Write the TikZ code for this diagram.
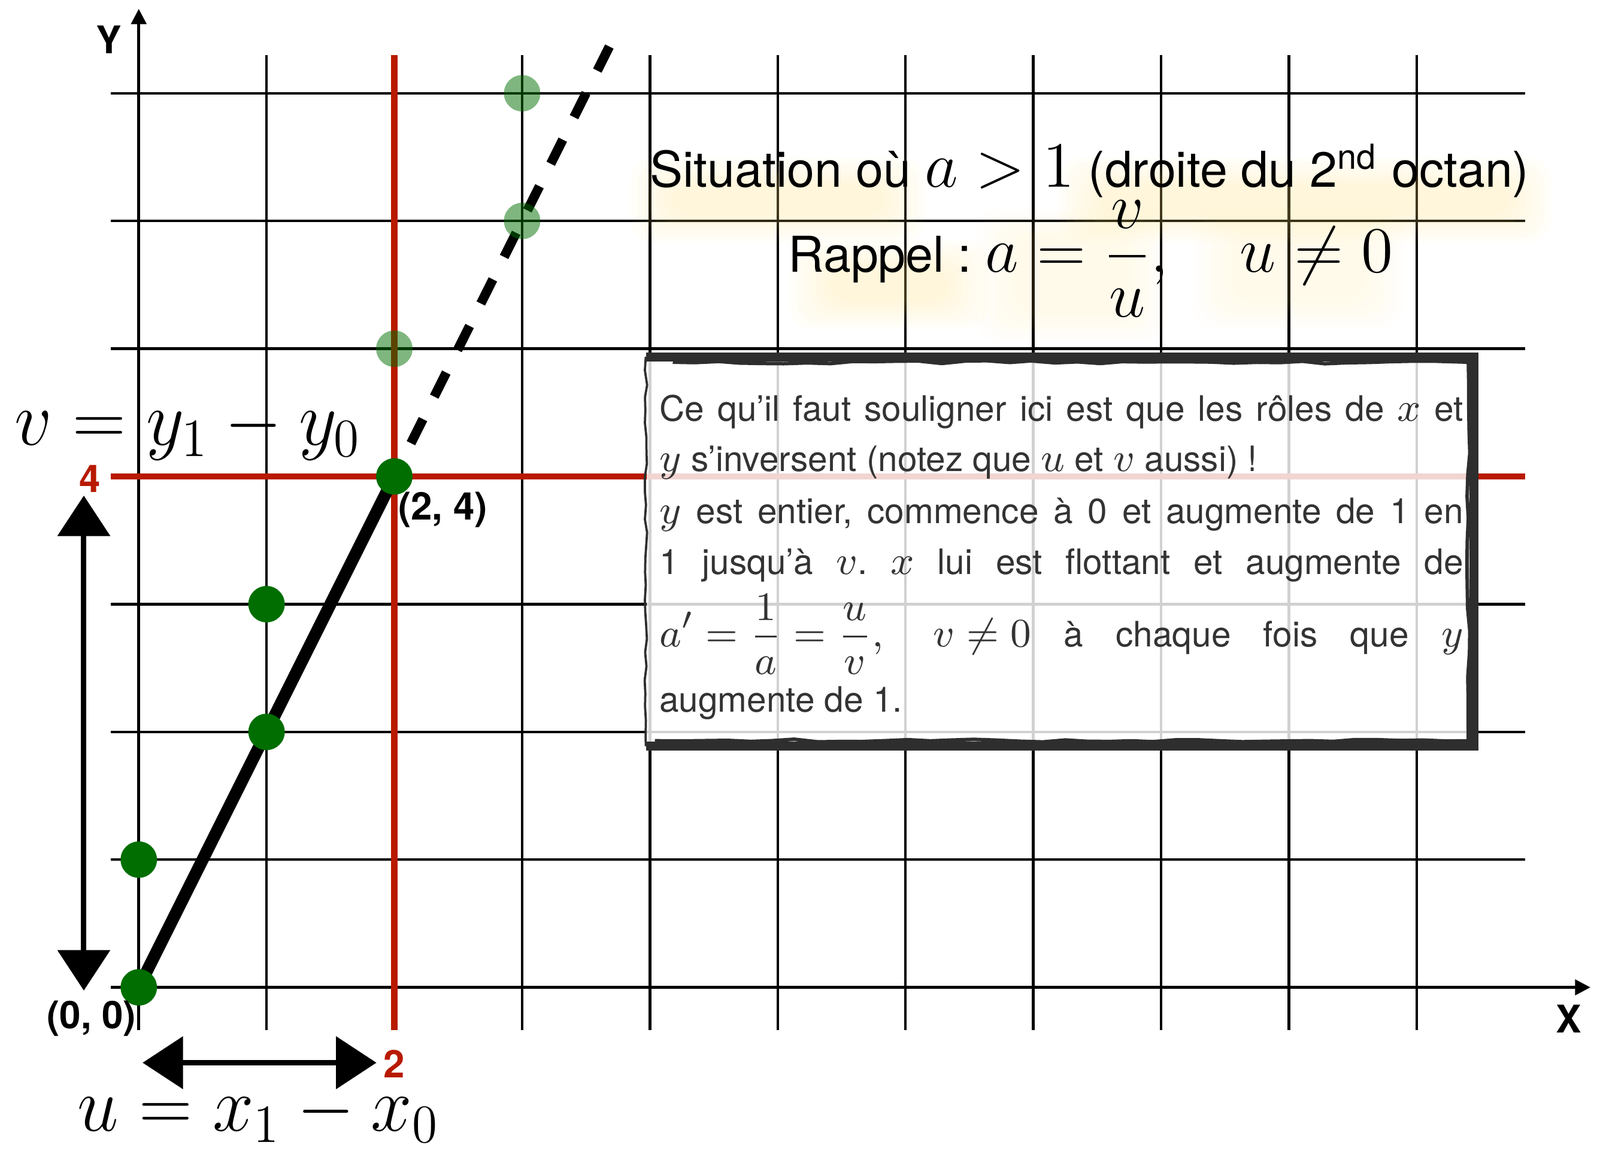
\documentclass[tikz,border=0pt]{standalone}
\usepackage{amsmath}
\usepackage{fontspec}
\setmainfont{TeX Gyre Heros}
\setsansfont{TeX Gyre Heros}
\usetikzlibrary{arrows.meta,decorations.pathmorphing}
\definecolor{redl}{RGB}{184,26,0}
\definecolor{dgreen}{RGB}{0,110,0}
\definecolor{boxtxt}{RGB}{51,51,51}
\definecolor{boxline}{RGB}{46,46,46}
\definecolor{glowc}{RGB}{255,222,120}
\frenchspacing
\newcommand\mth[1]{\mbox{\fontsize{9.5}{9.5}\selectfont$#1$}}
\newcommand\tmath[1]{\mbox{\fontsize{13.6}{14}\selectfont$#1$}}
\newcommand\glowbox[5]{%
  \foreach \k in {1,...,7}{%
    \fill[glowc, opacity=#5, rounded corners=5pt] (#1-\k*0.05, #2-\k*0.035) rectangle (#3+\k*0.05, #4+\k*0.035);
  }}
\begin{document}
\begin{tikzpicture}[
  gridl/.style={line width=0.6pt, black},
  redline/.style={line width=1.45pt, redl},
  axisl/.style={line width=0.6pt, -{Triangle[length=3.4pt,width=3.4pt]}},
  dotn/.style={circle, fill=dgreen, minimum size=0.285cm, inner sep=0pt},
  ghost/.style={circle, fill=dgreen, fill opacity=0.5, minimum size=0.285cm, inner sep=0pt},
  thickl/.style={line width=2.7pt, black},
  dashl/.style={line width=2.1pt, black, dash pattern=on 6pt off 5.6pt},
  sketcharrow/.style={line width=1.2pt, black, {Triangle[length=9pt,width=11.5pt]}-{Triangle[length=9pt,width=11.5pt]}},
  lab/.style={font=\fontsize{8.5}{10}\selectfont\bfseries, inner sep=0pt},
  titlef/.style={font=\fontsize{11}{13}\selectfont, inner sep=0pt},
  biglab/.style={font=\fontsize{17.6}{20}\selectfont, inner sep=0pt, xscale=0.95},
  boxtext/.style={font=\fontsize{7.8}{9}\selectfont, text=boxtxt, inner sep=0pt, anchor=base west},
  boxst/.style={fill=white, fill opacity=0.82, inner sep=0pt},
]
\useasboundingbox (-1.086,-1.277) rectangle (11.435,7.730);

% grid
\foreach \x in {1,...,10} \draw[gridl] (\x,-0.335) -- (\x,7.30);
\foreach \y in {1,...,7} \draw[gridl] (-0.22,\y) -- (10.85,\y);

% axes
\coordinate (xs) at (-0.22,0); \coordinate (xe) at (11.36,0);
\coordinate (ys) at (0,-0.335); \coordinate (ye) at (0,7.66);
\draw[axisl] (xs) -- (xe);
\draw[axisl] (ys) -- (ye);

% red lines
\coordinate (rv1) at (2,-0.335); \coordinate (rv2) at (2,7.30);
\coordinate (rh1) at (-0.22,4); \coordinate (rh2) at (10.85,4);
\draw[redline] (rv1) -- (rv2);
\draw[redline] (rh1) -- (rh2);

% glows
\glowbox{4.2}{6.08}{5.8}{6.25}{0.045}
\glowbox{7.55}{6.08}{10.7}{6.25}{0.045}
\glowbox{5.45}{5.4}{6.3}{5.6}{0.045}
\glowbox{6.9}{5.3}{7.7}{5.85}{0.022}
\glowbox{8.6}{5.4}{9.55}{5.85}{0.022}

% titles
\node[titlef, anchor=base] (title) at (7.44,6.267) {Situation où \tmath{a > 1} (droite du 2\textsuperscript{nd} octan)};
\node[titlef, anchor=base] (rappel) at (7.45,5.598) {Rappel : \tmath{a = \dfrac{v}{u},\quad u \neq 0}};

% info box
\node[boxst, minimum width=6.465cm, minimum height=3.035cm] (infobox) at (7.2075,3.4125) {};
\draw[boxline, line width=0.5pt, decorate, decoration={random steps, segment length=3pt, amplitude=0.3pt}]
  (infobox.north west) -- (infobox.south west);
\draw[boxline, line width=2pt, line join=miter] (infobox.north west) -- (infobox.north east) -- (infobox.south east) -- (infobox.south west);
\draw[boxline, line width=0.8pt, decorate, decoration={random steps, segment length=5pt, amplitude=0.35pt}]
  ([xshift=6pt,yshift=-1.2pt]infobox.north west) -- ([xshift=-1.2pt,yshift=-1.2pt]infobox.north east) -- ([xshift=-1.2pt,yshift=1.2pt]infobox.south east) -- ([xshift=2pt,yshift=1.2pt]infobox.south west);

\node[boxtext] (l1) at (4.068,4.435) {\makebox[6.29cm][s]{Ce qu’il faut souligner ici est que les rôles de \mth{x} et}};
\node[boxtext] (l2) at (4.068,4.042) {\mth{y} s’inversent (notez que \mth{u} et \mth{v} aussi) !};
\node[boxtext] (l3) at (4.068,3.634) {\makebox[6.29cm][s]{\mth{y} est entier, commence à 0 et augmente de 1 en}};
\node[boxtext] (l4) at (4.068,3.236) {\makebox[6.29cm][s]{1 jusqu’à \mth{v}. \mth{x} lui est flottant et augmente de}};
\node[boxtext] (l5) at (4.068,2.668) {\makebox[6.29cm][s]{\mth{a' = \dfrac{1}{a} = \dfrac{u}{v},\quad v \neq 0} à chaque fois que \mth{y}}};
\node[boxtext] (l6) at (4.068,2.158) {augmente de 1.};

% points and line
\coordinate (c00) at (0,0); \coordinate (c01) at (0,1);
\coordinate (c12) at (1,2); \coordinate (c13) at (1,3);
\coordinate (c24) at (2,4); \coordinate (c25) at (2,5);
\coordinate (c36) at (3,6); \coordinate (c37) at (3,7);
\coordinate (d1) at (2.13,4.26); \coordinate (d2) at (3.70,7.40);
\draw[thickl] (c00) -- (c24);
\draw[dashl] (d1) -- (d2);
\node[dotn] (p00) at (c00) {};
\node[dotn] (p01) at (c01) {};
\node[dotn] (p12) at (c12) {};
\node[dotn] (p13) at (c13) {};
\node[dotn] (p24) at (c24) {};
\node[ghost] (p25) at (c25) {};
\node[ghost] (p36) at (c36) {};
\node[ghost] (p37) at (c37) {};

% double arrows
\coordinate (va) at (-0.43,3.85); \coordinate (vb) at (-0.43,-0.025);
\coordinate (ha) at (0.03,-0.59); \coordinate (hb) at (1.86,-0.59);
\draw[sketcharrow] (va) -- (vb);
\draw[sketcharrow] (ha) -- (hb);

% labels
\node[lab, text=redl] (four) at (-0.38,3.98) {4};
\node[lab, text=redl] (two) at (2.0,-0.60) {2};
\node[lab] (p24l) at (2.38,3.74) {(2, 4)};
\node[lab] (p00l) at (-0.37,-0.245) {(0, 0)};
\node[lab] (ylab) at (-0.233,7.42) {Y};
\node[lab] (xlab) at (11.19,-0.246) {X};
\node[biglab, anchor=base] (vlab) at (0.385,4.248) {$v = y_1 - y_0$};
\node[biglab, anchor=base] (ulab) at (0.936,-1.122) {$u = x_1 - x_0$};
\end{tikzpicture}
\end{document}
